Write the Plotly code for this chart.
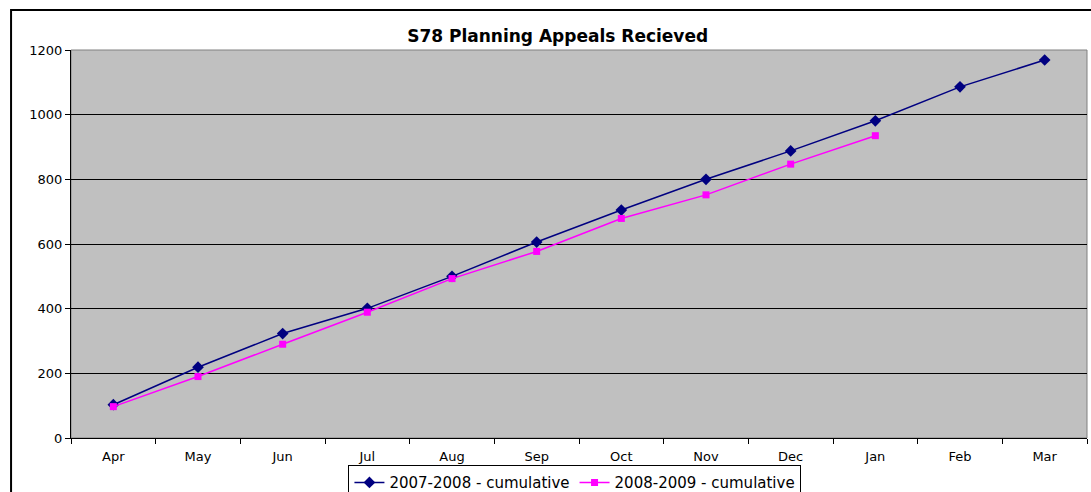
import plotly.graph_objects as go

months = ["Apr", "May", "Jun", "Jul", "Aug", "Sep", "Oct", "Nov", "Dec", "Jan", "Feb", "Mar"]
cum_2007_2008 = [103, 219, 323, 401, 500, 606, 705, 800, 888, 981, 1086, 1169]
months_2008 = ["Apr", "May", "Jun", "Jul", "Aug", "Sep", "Oct", "Nov", "Dec", "Jan"]
cum_2008_2009 = [97, 190, 290, 389, 493, 577, 679, 752, 847, 935]
y_ticks = [0, 200, 400, 600, 800, 1000, 1200]

FONT = "DejaVu Sans, Verdana, sans-serif"

fig = go.Figure()
fig.add_trace(go.Scatter(
    x=months, y=cum_2007_2008, name="2007-2008 - cumulative",
    mode="lines+markers",
    line=dict(color="#000080", width=1.5),
    marker=dict(symbol="diamond", size=9, color="#000080"),
))
fig.add_trace(go.Scatter(
    x=months_2008, y=cum_2008_2009, name="2008-2009 - cumulative",
    mode="lines+markers",
    line=dict(color="#FF00FF", width=1.5),
    marker=dict(symbol="square", size=7, color="#FF00FF"),
))

fig.update_layout(
    width=1091, height=492,
    margin=dict(l=71, r=4, t=50, b=54, autoexpand=False),
    paper_bgcolor="white",
    plot_bgcolor="#C0C0C0",
    font=dict(family=FONT, size=13, color="black"),
    title=dict(text="<b>S78 Planning Appeals Recieved</b>", x=0.479, xref="paper",
               xanchor="center", y=0.927, yref="container", yanchor="middle",
               font=dict(family=FONT, size=17, color="black")),
    xaxis=dict(
        categoryorder="array", categoryarray=months,
        range=[-0.5, 11.5],
        showgrid=False, showline=True, linecolor="black", linewidth=1,
        ticks="outside", ticklen=5, tickcolor="black", tickson="boundaries",
        tickfont=dict(size=13), zeroline=False, ticklabelstandoff=6,
    ),
    yaxis=dict(
        range=[0, 1200], tickvals=y_ticks,
        showgrid=True, gridcolor="black", gridwidth=1,
        showline=True, linecolor="black", linewidth=1,
        ticks="outside", ticklen=5, tickcolor="black",
        tickfont=dict(size=13), zeroline=False,
    ),
    legend=dict(
        orientation="h", x=0.496, xanchor="center", y=-0.07, yanchor="top",
        bgcolor="white", bordercolor="black", borderwidth=1,
        font=dict(family=FONT, size=15), itemwidth=30, tracegroupgap=0,
    ),
    showlegend=True,
)

# plot area outline (grey) and outer chart border
fig.add_shape(type="rect", xref="paper", yref="paper", x0=0, x1=1, y0=0, y1=1,
              line=dict(color="#808080", width=1), layer="below")
fig.add_shape(type="rect", xref="paper", yref="paper", x0=-0.059, x1=1.2, y0=-0.5, y1=1.103,
              line=dict(color="black", width=2))

fig.write_html("out.html", config={"displayModeBar": False},
               post_script="document.body.style.margin='0';document.body.style.overflow='hidden';")
